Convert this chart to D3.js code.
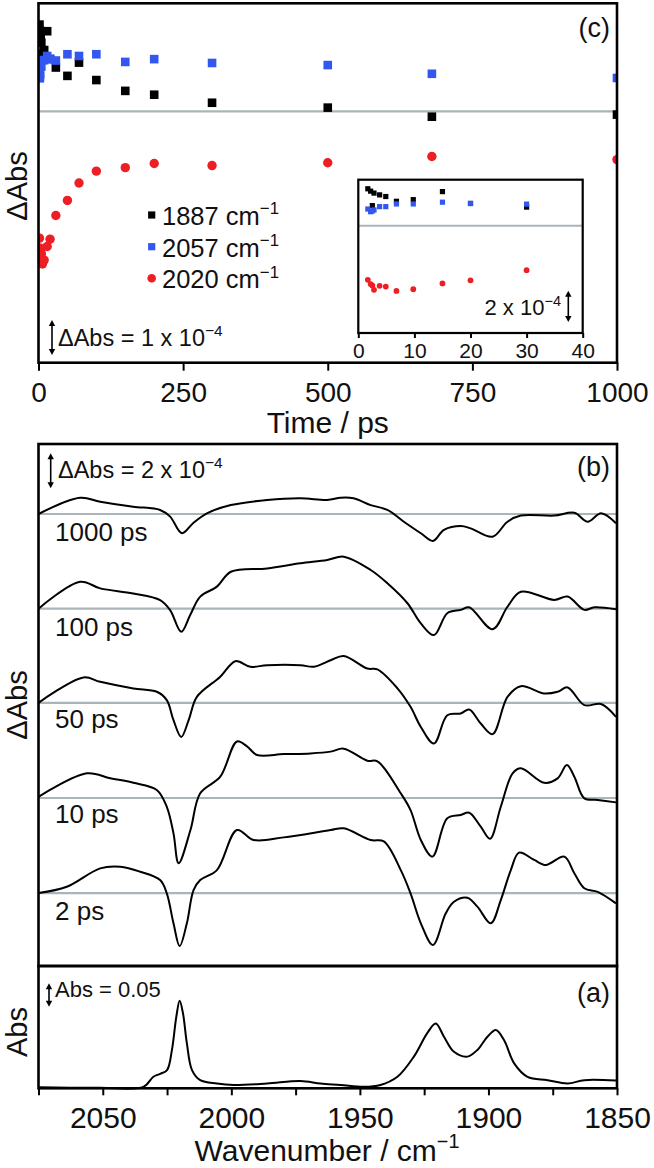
<!DOCTYPE html>
<html><head><meta charset="utf-8">
<script src="https://cdn.jsdelivr.net/npm/d3@7"></script>
<style>
body{margin:0;background:#fff}
svg{display:block}
text{font-family:"Liberation Sans",Arial,Helvetica,sans-serif;fill:#111}
</style>
</head><body>
<svg id="chart" width="654" height="1168"></svg>
<script>
// ---------- Panel (c): kinetics (ΔAbs in units of 1e-4) ----------
const times = [1.7, 2.2, 2.5, 2.8, 3.8, 4.9, 6.8, 9.8, 15, 20, 30, 50, 70, 100, 150, 200, 300, 500, 680, 1000];
const k1887 = [2.49, 2.33, 1.36, 2.2, 2.08, 1.97, 1.65, 1.76, 2.3, 1.5, 1.26, 1.02, 1.4, 0.9, 0.59, 0.48, 0.25, 0.11, -0.15, -0.09];
const k2057 = [1.13, 0.95, 1.0, 1.07, 1.29, 1.29, 1.47, 1.47, 1.59, 1.51, 1.46, 1.64, 1.59, 1.64, 1.42, 1.5, 1.39, 1.33, 1.08, 0.96];
const k2020 = [-3.63, -3.91, -4.01, -4.3, -4.03, -4.08, -4.37, -4.26, -3.87, -3.66, -2.98, -2.55, -2.05, -1.71, -1.61, -1.49, -1.55, -1.47, -1.29, -1.38];
const seriesNames = ["1887 cm", "2057 cm", "2020 cm"];
const timeTicks = [0, 250, 500, 750, 1000];
const insetTicks = [0, 10, 20, 30, 40];

// ---------- Panel (b): TRIR spectra (ΔAbs in units of 1e-4, relative to own baseline) ----------
const delayLabels = ["2 ps", "10 ps", "50 ps", "100 ps", "1000 ps"];
const delayOffsets = [0, 5.43, 10.87, 16.25, 21.66];
const wn2 = [2075, 2064, 2051, 2043.2, 2035.5, 2027.7, 2025.1, 2022.5, 2020.1, 2017.3, 2014.7, 2012.1, 2005.6, 1997.8, 1991.3, 1979.6, 1961.4, 1956.3, 1945.8, 1940.7, 1934.1, 1930.3, 1926.3, 1921.6, 1916.6, 1913.4, 1908.2, 1904.3, 1899.1, 1895.2, 1891.3, 1888.1, 1882.2, 1877.7, 1870.5, 1866.6, 1862.7, 1857.5, 1850.4];
const dA2 = [0, 0.36, 1.41, 1.5, 1.22, 0.74, -0.02, -1.73, -3.03, -1.73, 0.17, 0.74, 1.31, 3.6, 3.03, 3.18, 3.6, 3.7, 3.03, 2.95, 1.31, -0.02, -1.73, -2.97, -1.16, -0.5, -0.27, -0.78, -1.73, -0.4, 1.31, 2.31, 1.89, 1.6, 2.08, 1.13, 0.27, 0.07, -0.59];
const wn10 = [2075, 2056.2, 2047.1, 2038.1, 2029, 2025.1, 2022.5, 2020.5, 2015.9, 2012.1, 2004.3, 1997.8, 1993.9, 1990, 1979.6, 1969.2, 1961.4, 1956.3, 1947.1, 1943.2, 1934.1, 1930.3, 1926.3, 1921.8, 1916, 1910.8, 1907.5, 1903, 1899.4, 1895.2, 1890.6, 1887.4, 1878.3, 1873.1, 1869.5, 1866.6, 1862.7, 1857.5, 1850.4];
const dA10 = [0.07, 1.41, 1.13, 0.87, 0.46, -0.5, -2.02, -3.73, -1.83, 0.27, 1.22, 3.23, 2.95, 2.46, 2.51, 2.55, 2.65, 2.82, 2.13, 2.1, 0.27, -0.69, -2.4, -3.35, -1.16, -0.97, -0.84, -1.64, -2.33, -0.5, 1.41, 1.7, 0.87, 1.12, 1.89, 1.22, -0.02, -0.11, -0.25];
const wn50 = [2075, 2057.5, 2051, 2038.1, 2029, 2025.1, 2022.5, 2019.5, 2016.6, 2013.4, 2004.3, 1998.4, 1992.6, 1986.1, 1973.1, 1967.9, 1961.4, 1956.3, 1947.1, 1943.2, 1935.4, 1930.3, 1926.3, 1921.2, 1916, 1910.8, 1907.5, 1903, 1898.4, 1892.6, 1887.4, 1878.3, 1873.1, 1869.2, 1862.7, 1856.2, 1850.4];
const dA50 = [0, 1.45, 1.2, 0.82, 0.63, 0.15, -0.99, -1.95, -0.99, 0.34, 1.49, 2.38, 2.06, 2.15, 2.15, 2.06, 2.43, 2.68, 1.96, 1.91, 0.83, -0.23, -1.38, -2.33, -0.71, -0.61, -0.38, -1.18, -1.79, 0.34, 0.95, 0.53, 0.63, 0.88, -0.13, -0.07, -0.8];
const wn100 = [2075, 2058.8, 2051, 2038.2, 2027.7, 2023.8, 2019.5, 2016, 2012.1, 2005.6, 2000.2, 1986.1, 1973.1, 1962.7, 1956.3, 1945.8, 1939.3, 1931.5, 1926.3, 1921.2, 1916, 1910.8, 1907.5, 1898.4, 1892.6, 1887.4, 1874.4, 1869.2, 1862.7, 1858.8, 1850.4];
const dA100 = [0, 1.54, 1.16, 0.87, 0.49, -0.08, -1.32, -0.36, 0.69, 1.26, 2.11, 2.3, 2.59, 2.78, 2.97, 2.21, 1.45, 0.31, -0.84, -1.51, -0.26, -0.07, 0.08, -1.18, 0.11, 0.97, 0.5, 0.69, -0.07, 0.08, -0.03];
const wn1000 = [2075, 2058.8, 2051, 2038.2, 2027.7, 2023.8, 2019.2, 2014.8, 2009.5, 2000.2, 1986.1, 1973.1, 1962.7, 1957.5, 1952.5, 1945.8, 1939.3, 1932.9, 1926.3, 1921.6, 1917.3, 1910.8, 1906.9, 1898.4, 1892.6, 1887.4, 1874.4, 1866.6, 1861.4, 1856.2, 1850.4];
const dA1000 = [0, 0.93, 0.7, 0.42, 0.23, -0.15, -1.1, -0.51, 0.04, 0.51, 0.8, 0.9, 0.8, 0.93, 0.9, 0.51, 0.23, -0.44, -1.1, -1.54, -0.91, -0.69, -0.82, -1.3, -0.44, -0.09, -0.09, 0.07, -0.44, 0.04, -0.53];

// ---------- Panel (a): ground-state FTIR ----------
const wnA = [2075, 2051, 2034.2, 2030.3, 2027.7, 2025, 2023.1, 2021.4, 2020.1, 2018.8, 2017.3, 2015.3, 2012.1, 2005.6, 1999.1, 1986.1, 1973.1, 1965.3, 1957.5, 1948.5, 1942, 1935.4, 1929, 1923.8, 1920.5, 1917.3, 1913.4, 1908.2, 1904.3, 1900.4, 1897.1, 1893.9, 1890, 1884.8, 1877, 1869.2, 1862.7, 1850.4];
const absA = [0.002, 0.001, 0.003, 0.024, 0.030, 0.038, 0.080, 0.149, 0.1825, 0.156, 0.094, 0.038, 0.017, 0.010, 0.007, 0.010, 0.015, 0.010, 0.007, 0.003, 0.007, 0.024, 0.066, 0.115, 0.135, 0.1075, 0.076, 0.066, 0.080, 0.1075, 0.1215, 0.100, 0.052, 0.024, 0.017, 0.010, 0.017, 0.016];
const wnTicks = [2050, 2000, 1950, 1900, 1850];
const wnMinor = [2075, 2025, 1975, 1925, 1875];

// ================= drawing =================
const svg = d3.select("#chart");
const BLUE = "#3357ee", RED = "#ee1f24", GRAY = "#a9b5b8";
const L = 38.5, R = 617;

function supText(g, x, y, base, sup, size, anchor) {
  const t = g.append("text").attr("x", x).attr("y", y).attr("font-size", size)
    .attr("text-anchor", anchor || "start");
  t.append("tspan").text(base);
  t.append("tspan").text(sup).attr("font-size", size * 0.66).attr("dy", -size * 0.42);
  return t;
}
function dblArrow(g, x, y1, y2) {
  const h = 5, w = 3.2;
  g.append("line").attr("x1", x).attr("x2", x).attr("y1", y1 + h - 1).attr("y2", y2 - h + 1)
    .attr("stroke", "#000").attr("stroke-width", 1.6);
  g.append("path").attr("d", `M${x},${y1}L${x - w},${y1 + h + 1}L${x + w},${y1 + h + 1}Z`).attr("fill", "#000");
  g.append("path").attr("d", `M${x},${y2}L${x - w},${y2 - h - 1}L${x + w},${y2 - h - 1}Z`).attr("fill", "#000");
}
function styleAxis(g, fs) {
  g.select(".domain").remove();
  g.selectAll(".tick line").attr("stroke", "#000").attr("stroke-width", 2);
  g.selectAll(".tick text").attr("font-size", fs).attr("fill", "#111")
    .attr("font-family", '"Liberation Sans",Arial,sans-serif');
}
function drawMarkers(g, xs, ys, data, kind, color, size) {
  const pts = times.map((t, i) => [t, data[i]]);
  if (kind === "square") {
    g.selectAll(null).data(pts).enter().append("rect")
      .attr("x", d => xs(d[0]) - size / 2).attr("y", d => ys(d[1]) - size / 2)
      .attr("width", size).attr("height", size).attr("fill", color);
  } else {
    g.selectAll(null).data(pts).enter().append("circle")
      .attr("cx", d => xs(d[0])).attr("cy", d => ys(d[1])).attr("r", size / 2).attr("fill", color);
  }
}

// ---------- Panel (c) ----------
const cTop = 3.3, cBot = 362.7;
const xT = d3.scaleLinear().domain([0, 1000]).range([L, R]);
const yC = d3.scaleLinear().domain([-7.2, 3.1]).range([cBot, cTop]);
svg.append("clipPath").attr("id", "clipC").append("rect")
  .attr("x", L).attr("y", cTop).attr("width", R - L).attr("height", cBot - cTop);
const gc = svg.append("g");
gc.append("line").attr("x1", L).attr("x2", R).attr("y1", yC(0)).attr("y2", yC(0))
  .attr("stroke", GRAY).attr("stroke-width", 2.2);
const gcm = gc.append("g").attr("clip-path", "url(#clipC)");
drawMarkers(gcm, xT, yC, k1887, "square", "#000", 8.6);
drawMarkers(gcm, xT, yC, k2057, "square", BLUE, 8.6);
drawMarkers(gcm, xT, yC, k2020, "circle", RED, 9.4);
const axT = gc.append("g").attr("transform", `translate(0,${cBot})`)
  .call(d3.axisBottom(xT).tickValues(timeTicks).tickSize(8).tickPadding(11.5).tickFormat(d3.format("d")));
styleAxis(axT, 28);
gc.append("text").attr("x", (L + R) / 2).attr("y", 433).attr("font-size", 30)
  .attr("text-anchor", "middle").text("Time / ps");
gc.append("text").attr("transform", `translate(27,186) rotate(-90)`).attr("font-size", 29)
  .attr("text-anchor", "middle").text("ΔAbs");
gc.append("text").attr("x", 610).attr("y", 37).attr("font-size", 27)
  .attr("text-anchor", "end").text("(c)");
// legend
const legY = [215, 246.7, 278.3];
const legKinds = [["square", "#000"], ["square", BLUE], ["circle", RED]];
legY.forEach((yy, i) => {
  if (legKinds[i][0] === "square")
    gc.append("rect").attr("x", 151.7 - 3.6).attr("y", yy - 3.6).attr("width", 7.2).attr("height", 7.2).attr("fill", legKinds[i][1]);
  else
    gc.append("circle").attr("cx", 151.7).attr("cy", yy).attr("r", 4.3).attr("fill", legKinds[i][1]);
  supText(gc, 162, yy + 10, seriesNames[i], "−1", 25.5);
});
dblArrow(gc, 52, 320, 355);
supText(gc, 58, 345.7, "ΔAbs = 1 x 10", "−4", 23.5);

// inset
const iL = 358.3, iR = 582.7, iT = 179.7, iB = 333;
const xI = d3.scaleLinear().domain([0, 40]).range([iL, iR]);
const yI = d3.scaleLinear().domain([-7.2, 3.1]).range([iB, iT]);
const gi = svg.append("g");
gi.append("rect").attr("x", iL).attr("y", iT).attr("width", iR - iL).attr("height", iB - iT)
  .attr("fill", "#fff").attr("stroke", "none");
gi.append("line").attr("x1", iL).attr("x2", iR).attr("y1", yI(0)).attr("y2", yI(0))
  .attr("stroke", GRAY).attr("stroke-width", 2);
svg.append("clipPath").attr("id", "clipI").append("rect")
  .attr("x", iL).attr("y", iT).attr("width", iR - iL).attr("height", iB - iT);
const gim = gi.append("g").attr("clip-path", "url(#clipI)");
drawMarkers(gim, xI, yI, k1887, "square", "#000", 5.2);
drawMarkers(gim, xI, yI, k2057, "square", BLUE, 5.2);
drawMarkers(gim, xI, yI, k2020, "circle", RED, 5.8);
gi.append("rect").attr("x", iL).attr("y", iT).attr("width", iR - iL).attr("height", iB - iT)
  .attr("fill", "none").attr("stroke", "#000").attr("stroke-width", 2.2);
const axI = gi.append("g").attr("transform", `translate(0,${iB})`)
  .call(d3.axisBottom(xI).tickValues(insetTicks).tickSize(5).tickPadding(5.5));
styleAxis(axI, 21);
dblArrow(gi, 568.3, 290.7, 322);
supText(gi, 561, 315.3, "2 x 10", "−4", 22, "end");

gc.append("rect").attr("x", L).attr("y", cTop).attr("width", R - L).attr("height", cBot - cTop)
  .attr("fill", "none").attr("stroke", "#000").attr("stroke-width", 2.6);

// ---------- Panel (b) ----------
const bTop = 444, bBot = 966, aBot = 1088.3;
const xW = d3.scaleLinear().domain([2075, 1850]).range([L, R]);
const yB = d3.scaleLinear().domain([-4.17, 25.66]).range([bBot, bTop]);
const gb = svg.append("g");
const specWn = [wn2, wn10, wn50, wn100, wn1000];
const specDA = [dA2, dA10, dA50, dA100, dA1000];
const labelBase = [920, 823.3, 728.3, 636, 540.7];
const line = d3.line().curve(d3.curveCatmullRom.alpha(0.5));
specWn.forEach((wns, i) => {
  const off = delayOffsets[i];
  gb.append("line").attr("x1", L).attr("x2", R).attr("y1", yB(off)).attr("y2", yB(off))
    .attr("stroke", GRAY).attr("stroke-width", 2.2);
});
specWn.forEach((wns, i) => {
  const off = delayOffsets[i];
  const pts = wns.map((w, j) => [xW(w), yB(specDA[i][j] + off)]);
  gb.append("path").attr("d", line(pts)).attr("fill", "none").attr("stroke", "#000")
    .attr("stroke-width", 2).attr("stroke-linejoin", "round");
  gb.append("text").attr("x", 55).attr("y", labelBase[i]).attr("font-size", 26).text(delayLabels[i]);
});
gb.append("rect").attr("x", L).attr("y", bTop).attr("width", R - L).attr("height", bBot - bTop)
  .attr("fill", "none").attr("stroke", "#000").attr("stroke-width", 2.6);
gb.append("text").attr("x", 610).attr("y", 476).attr("font-size", 27).attr("text-anchor", "end").text("(b)");
dblArrow(gb, 50.7, 453.3, 488.3);
supText(gb, 58, 478.3, "ΔAbs = 2 x 10", "−4", 23.5);
gb.append("text").attr("transform", `translate(27,705) rotate(-90)`).attr("font-size", 29)
  .attr("text-anchor", "middle").text("ΔAbs");

// ---------- Panel (a) ----------
const yA = d3.scaleLinear().domain([0, (aBot - bBot) / 480]).range([aBot, bBot]);
const ga = svg.append("g");
ga.append("path").attr("d", line(wnA.map((w, j) => [xW(w), yA(absA[j])])))
  .attr("fill", "none").attr("stroke", "#000").attr("stroke-width", 2).attr("stroke-linejoin", "round");
ga.append("rect").attr("x", L).attr("y", bBot).attr("width", R - L).attr("height", aBot - bBot)
  .attr("fill", "none").attr("stroke", "#000").attr("stroke-width", 2.6);
const axW = ga.append("g").attr("transform", `translate(0,${aBot})`)
  .call(d3.axisBottom(xW).tickValues(wnTicks).tickSize(7).tickPadding(11.5).tickFormat(d3.format("d")));
styleAxis(axW, 30);
const axWm = ga.append("g").attr("transform", `translate(0,${aBot})`)
  .call(d3.axisBottom(xW).tickValues(wnMinor).tickSize(7).tickFormat(""));
styleAxis(axWm, 30);
ga.append("text").attr("x", 610).attr("y", 1001.7).attr("font-size", 27).attr("text-anchor", "end").text("(a)");
dblArrow(ga, 49, 983.3, 1006.7);
ga.append("text").attr("x", 55).attr("y", 997.3).attr("font-size", 22).text("Abs = 0.05");
ga.append("text").attr("transform", `translate(27,1032) rotate(-90)`).attr("font-size", 29)
  .attr("text-anchor", "middle").text("Abs");
supText(ga, 327, 1161, "Wavenumber / cm", "−1", 30, "middle");
</script>
</body></html>
